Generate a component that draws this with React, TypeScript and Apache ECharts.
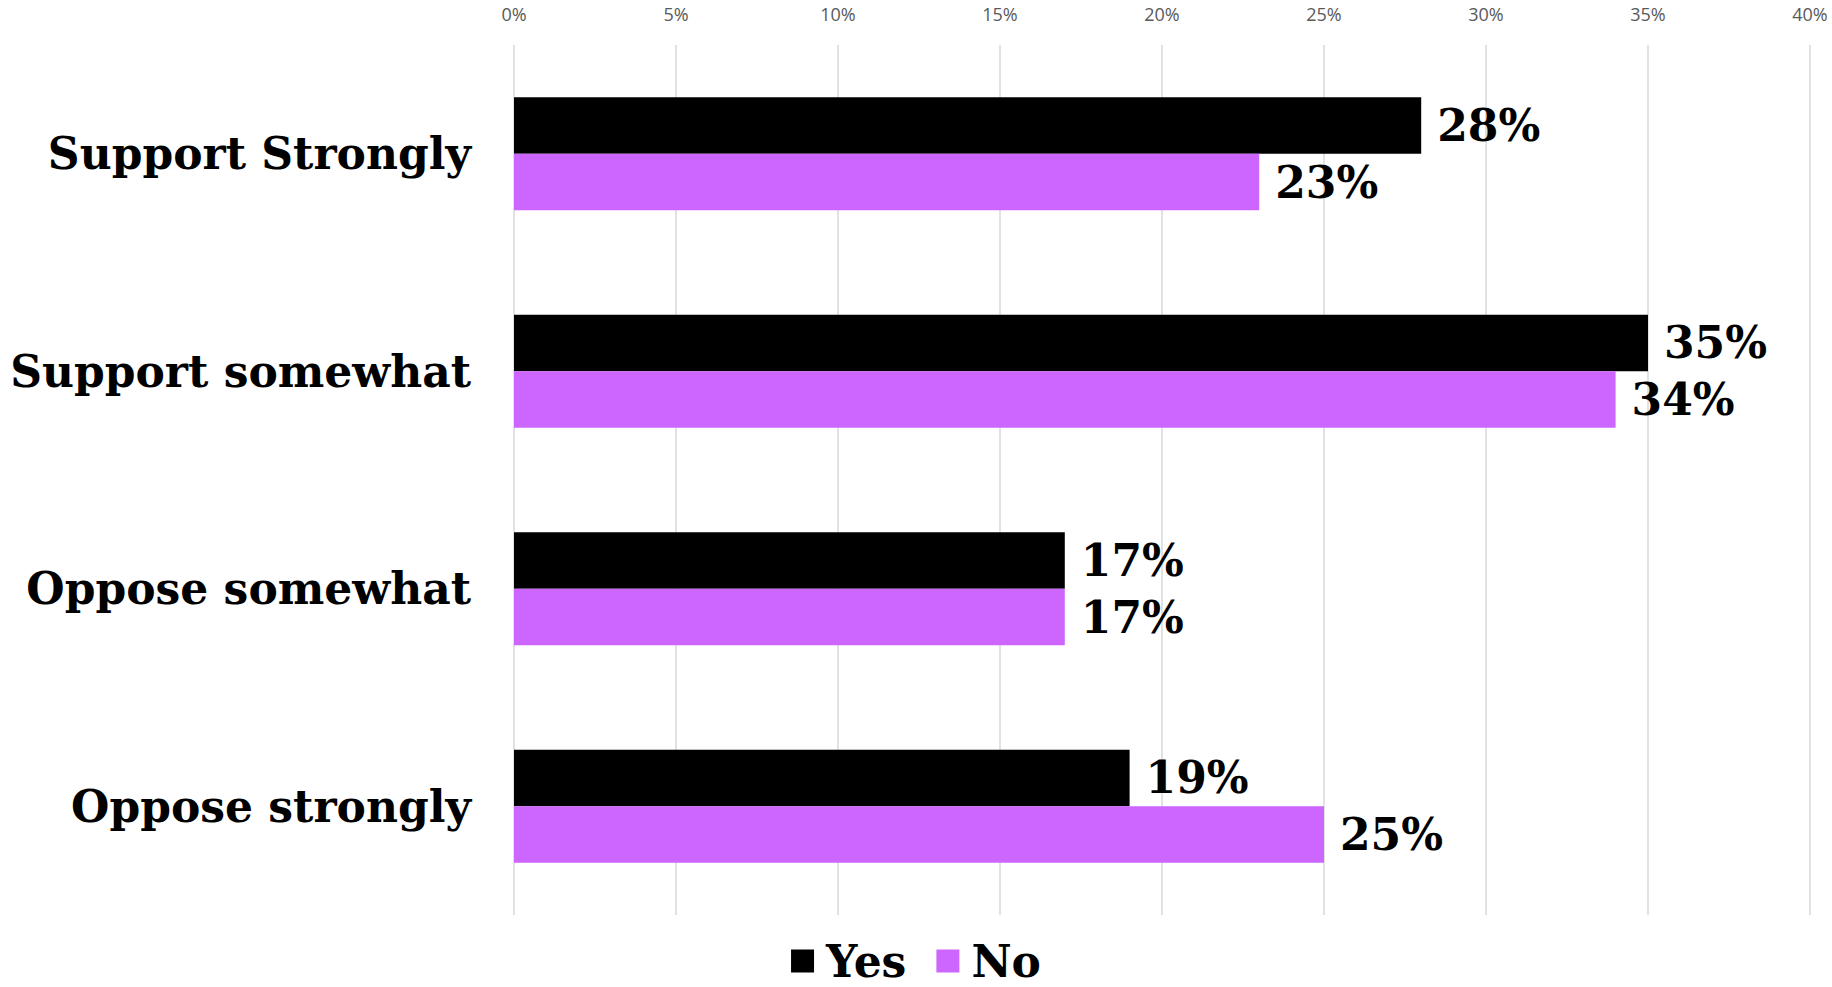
import React, { useEffect, useRef } from "react";
import * as echarts from "echarts";

const categories = ["Support Strongly", "Support somewhat", "Oppose somewhat", "Oppose strongly"];
const yesValues = [28, 35, 17, 19];
const noValues = [23, 34, 17, 25];
const seriesNames = ["Yes", "No"];

const SERIF = "'DejaVu Serif', Georgia, serif";
const BIG = 44;

export default function App() {
  const ref = useRef<HTMLDivElement>(null);
  useEffect(() => {
    document.body.style.margin = "0";
    const chart = echarts.init(ref.current!, null, { renderer: "svg" });
    const labelStyle = {
      show: true,
      position: "right" as const,
      distance: 16,
      formatter: "{c}%",
      color: "#000",
      fontFamily: SERIF,
      fontWeight: "bold" as const,
      fontSize: BIG,
    };
    chart.setOption({
      animation: false,
      backgroundColor: "#ffffff",
      grid: { left: 514, right: 22, top: 45, bottom: 72, containLabel: false },
      legend: {
        bottom: 0,
        left: "center",
        padding: 0,
        itemWidth: 23,
        itemHeight: 23,
        itemGap: 30,
        icon: "rect",
        data: seriesNames,
        textStyle: {
          fontFamily: SERIF,
          fontWeight: "bold",
          fontSize: BIG,
          lineHeight: 52,
          color: "#000",
          padding: [0, 0, 0, 7],
        },
      },
      xAxis: {
        type: "value",
        position: "top",
        min: 0,
        max: 40,
        interval: 5,
        axisLine: { show: false },
        axisTick: { show: false },
        axisLabel: {
          formatter: "{value}%",
          color: "#595959",
          fontSize: 18,
          fontFamily: "'Open Sans', 'Noto Sans', sans-serif",
          margin: 22,
        },
        splitLine: { show: true, lineStyle: { color: "#d9d9d9", width: 1.5 } },
      },
      yAxis: {
        type: "category",
        inverse: true,
        data: categories,
        axisLine: { show: false },
        axisTick: { show: false },
        axisLabel: {
          color: "#000",
          fontFamily: SERIF,
          fontWeight: "bold",
          fontSize: BIG,
          margin: 43,
        },
      },
      series: [
        {
          name: seriesNames[0],
          type: "bar",
          data: yesValues,
          itemStyle: { color: "#000000" },
          barGap: "0%",
          barCategoryGap: "48%",
          label: labelStyle,
        },
        {
          name: seriesNames[1],
          type: "bar",
          data: noValues,
          itemStyle: { color: "#cc66ff" },
          barGap: "0%",
          barCategoryGap: "48%",
          label: labelStyle,
        },
      ],
    });
    return () => chart.dispose();
  }, []);
  return <div ref={ref} style={{ width: 1832, height: 987 }} />;
}
